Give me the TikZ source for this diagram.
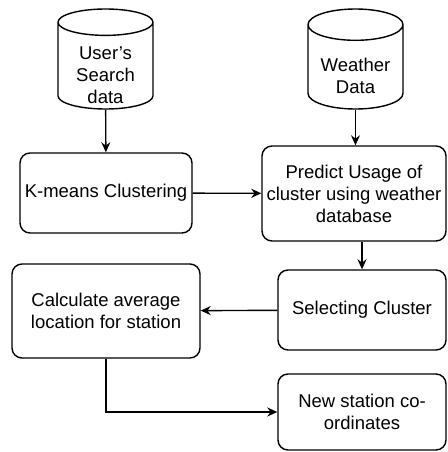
\documentclass[tikz,border=0pt]{standalone}
\usepackage{fontspec}
\setmainfont{Liberation Sans}
\usetikzlibrary{shapes.geometric,arrows.meta}

\tikzset{
  box/.style={draw, rounded corners=10pt, line width=1.4pt, align=center,
    font=\fontsize{18.5}{22}\selectfont},
  datastore/.style={draw, cylinder, shape border rotate=90, aspect=0.45,
    line width=1.4pt, inner sep=0pt, minimum width=95pt, minimum height=100pt,
    anchor=shape center, font=\fontsize{18.5}{22}\selectfont},
  flow/.style={-{Stealth[length=10pt,width=9pt]}, line width=1.4pt}
}
% text of a data store, set lower than the middle of the drum
\newcommand{\storetext}[1]{\raisebox{-15pt}[0pt][0pt]{\begin{tabular}{@{}c@{}}#1\end{tabular}}}

\begin{document}
\begin{tikzpicture}[x=1pt,y=-1pt]

  % white background, fixes the size of the picture
  \fill [white] (0,0) rectangle (447,452);
  \useasboundingbox (0,0) rectangle (447,452);

  % the two data stores
  \node [datastore] (udata) at (105.5,59) {\storetext{User's\\Search\\data}};
  \node [datastore] (wdata) at (355.5,59) {\storetext{Weather\\Data}};

  % process steps
  \node [box, minimum width=172pt, minimum height=80pt] (kmeans) at (106,193) {K-means Clustering};
  \node [box, minimum width=184pt, minimum height=95pt] (predict) at (354,193.5) {Predict Usage of\\cluster using weather\\database};
  \node [box, minimum width=168pt, minimum height=80pt] (select) at (362,310) {Selecting Cluster};
  \node [box, minimum width=188pt, minimum height=94pt] (calc) at (106,311) {Calculate average\\location for station};
  \node [box, minimum width=168pt, minimum height=76pt] (newst) at (362,412) {New station co-\\ordinates};

  % connectors
  \draw [flow] (udata) -- (kmeans);
  \draw [flow] (wdata) -- (wdata |- predict.north);
  \draw [flow] (kmeans) -- (predict);
  \draw [flow] (select.north |- predict.south) -- (select.north);
  \draw [flow] (select) -- (calc);
  \draw [flow] (calc) |- (newst);

\end{tikzpicture}
\end{document}
